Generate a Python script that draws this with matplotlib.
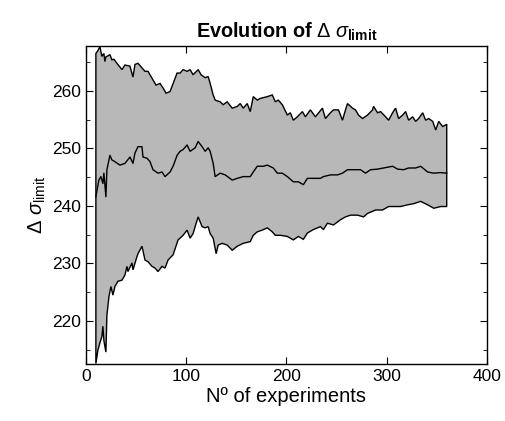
import numpy as np
import matplotlib
matplotlib.use('Agg')
import matplotlib.pyplot as plt
from matplotlib.ticker import MultipleLocator

plt.rcParams['font.family'] = ['Liberation Sans', 'DejaVu Sans']
plt.rcParams['mathtext.fontset'] = 'custom'
plt.rcParams['mathtext.rm'] = 'Liberation Sans'
plt.rcParams['mathtext.it'] = 'Liberation Sans:italic'
plt.rcParams['mathtext.bf'] = 'Liberation Sans:bold'

# upper bound
x_up = [10, 12, 14, 16, 18, 19, 20, 24, 26, 28, 31, 36, 39, 44, 47, 49, 52, 55, 59, 62,
        67, 70, 74, 77, 80, 84, 86, 91, 94, 97, 101, 104, 107, 112, 115, 119, 122, 124, 127, 129,
        134, 137, 141, 146, 151, 154, 157, 161, 164, 167, 171, 174, 181, 186, 189, 192, 196, 201, 204, 207,
        211, 216, 219, 224, 229, 236, 239, 244, 247, 252, 256, 259, 261, 266, 269, 272, 276, 281, 286, 287,
        291, 294, 299, 302, 306, 309, 312, 316, 319, 322, 326, 329, 332, 336, 339, 342, 346, 349, 352, 356, 360]
y_up = [266.5, 267.0, 267.7, 266.0, 266.5, 265.1, 265.9, 266.3, 265.4, 265.5, 264.8, 263.7, 264.5, 264.3, 262.4, 264.6, 264.8, 264.2, 263.4, 263.4,
        261.9, 261.0, 261.3, 260.5, 259.6, 259.9, 260.8, 263.1, 263.1, 263.7, 263.4, 263.7, 262.8, 263.7, 262.8, 262.3, 262.5, 261.3, 259.3, 258.4,
        258.1, 257.6, 258.1, 257.0, 257.3, 257.8, 257.0, 257.8, 256.4, 259.0, 258.4, 258.7, 259.0, 259.3, 258.1, 258.4, 257.6, 255.8, 256.2, 254.9,
        255.5, 256.4, 255.5, 256.7, 255.5, 257.0, 255.2, 256.2, 256.7, 256.7, 254.9, 256.7, 257.8, 257.0, 256.7, 255.8, 255.2, 255.8, 256.7, 257.3,
        256.2, 256.4, 255.5, 254.9, 256.2, 257.0, 255.2, 255.8, 256.4, 254.9, 255.5, 254.7, 255.2, 256.2, 254.9, 255.2, 254.7, 253.2, 254.7, 253.8, 254.2]

# mean
x_mid = [10, 13, 15, 17, 18, 20, 21, 24, 26, 29, 34, 39, 44, 47, 49, 52, 56, 57, 61, 64,
         67, 72, 76, 79, 84, 87, 91, 94, 97, 101, 104, 109, 112, 116, 119, 122, 124, 127, 129, 134,
         139, 146, 151, 157, 164, 167, 171, 177, 181, 187, 191, 196, 201, 207, 212, 217, 221, 227, 234, 237,
         244, 251, 256, 261, 267, 274, 279, 284, 291, 297, 306, 311, 317, 322, 329, 334, 341, 347, 354, 360]
y_mid = [241.6, 244.5, 245.1, 243.9, 245.7, 241.6, 246.3, 248.8, 248.0, 247.7, 247.1, 247.4, 248.5, 247.4, 249.2, 250.3, 250.3, 248.5, 248.3, 247.7,
         246.3, 245.7, 245.9, 245.1, 245.9, 246.9, 248.8, 249.5, 249.8, 250.6, 249.5, 250.1, 251.2, 250.3, 249.5, 250.1, 249.5, 247.4, 245.1, 245.7,
         245.4, 244.5, 244.8, 245.1, 245.1, 245.9, 246.9, 246.9, 247.1, 246.6, 245.7, 245.7, 245.1, 244.2, 244.2, 243.7, 244.8, 244.8, 244.8, 245.1,
         245.4, 245.4, 245.7, 246.3, 246.3, 246.3, 245.7, 246.3, 246.4, 246.6, 246.9, 246.4, 246.3, 246.6, 246.6, 246.9, 245.9, 245.7, 245.8, 245.7]

# lower bound
x_low = [10, 12, 14, 16, 17, 18, 20, 21, 23, 25, 27, 29, 32, 36, 39, 41, 42, 46, 47, 51,
         52, 56, 59, 62, 66, 69, 72, 76, 79, 82, 87, 92, 94, 97, 101, 104, 107, 109, 112, 116,
         119, 122, 124, 127, 130, 132, 136, 141, 146, 151, 157, 164, 167, 171, 176, 181, 186, 189, 194, 201,
         207, 212, 217, 221, 227, 234, 237, 241, 247, 254, 259, 264, 271, 277, 281, 289, 296, 302, 309, 314,
         321, 327, 334, 341, 347, 354, 360]
y_low = [212.6, 214.9, 216.2, 217.3, 219.1, 216.6, 214.6, 221.0, 224.2, 226.0, 224.5, 226.0, 226.9, 227.1, 228.0, 229.5, 228.6, 230.1, 228.9, 231.2,
         231.7, 233.0, 230.6, 230.3, 229.5, 229.2, 228.6, 229.5, 229.2, 230.6, 231.5, 234.1, 234.4, 234.9, 235.8, 234.4, 235.2, 236.4, 238.1, 236.4,
         236.2, 236.4, 235.2, 234.4, 231.7, 233.2, 233.5, 233.2, 232.3, 233.0, 233.5, 233.8, 234.9, 235.5, 235.8, 236.2, 235.5, 234.9, 234.9, 234.7,
         234.1, 234.7, 234.2, 235.3, 235.9, 236.4, 235.9, 237.0, 236.7, 237.6, 238.1, 238.4, 238.4, 238.1, 238.7, 239.3, 239.3, 239.9, 239.9, 239.9,
         240.2, 240.4, 240.8, 240.2, 239.6, 239.9, 239.9]

fig = plt.figure(figsize=(5.05, 4.21), dpi=100)
ax = fig.add_axes([0.170, 0.135, 0.794, 0.755])

# shaded band (polygon with black edge, like MATLAB fill)
poly_x = np.concatenate([x_up, x_low[::-1]])
poly_y = np.concatenate([y_up, y_low[::-1]])
ax.fill(poly_x, poly_y, facecolor='#b8b8b8', edgecolor='black', linewidth=1.0)
ax.plot(x_mid, y_mid, color='black', linewidth=1.0)

ax.set_xlim(0, 400)
ax.set_ylim(212.5, 267.75)
ax.xaxis.set_major_locator(MultipleLocator(100))
ax.yaxis.set_major_locator(MultipleLocator(10))
ax.yaxis.set_minor_locator(MultipleLocator(5))
ax.tick_params(which='both', direction='in', top=True, right=True, labelsize=12.5)
ax.tick_params(which='major', length=5)
ax.tick_params(which='minor', length=3)
for s in ax.spines.values():
    s.set_linewidth(1.0)

ax.set_xlabel('Nº of experiments', fontsize=14.5, labelpad=2)
ax.set_ylabel(r'$\Delta$ $\sigma_{\mathrm{limit}}$', fontsize=14.5, labelpad=3)
ax.set_title(r'Evolution of $\Delta$ $\sigma_{\mathbf{limit}}$', fontsize=14.3, fontweight='bold', pad=6)

plt.savefig('out.png', dpi=100)
